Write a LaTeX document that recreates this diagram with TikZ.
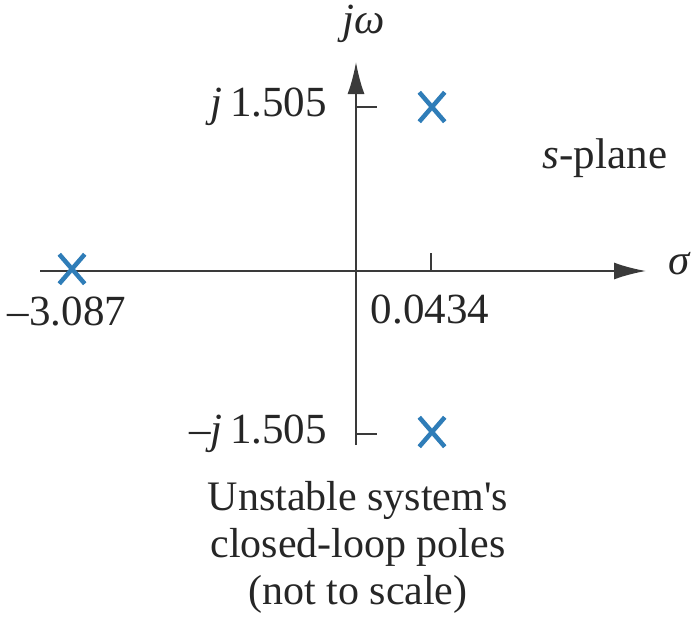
\documentclass[tikz,border=0pt]{standalone}
\usepackage{fontspec}
\setmainfont{Liberation Serif}
\usetikzlibrary{shapes.misc,arrows.meta}
\definecolor{poleblue}{HTML}{2F7DB8}
\definecolor{axisgray}{HTML}{3A3A3A}
\begin{document}
\begin{tikzpicture}[x=1pt,y=-1pt,
  axis/.style={draw=axisgray,line width=2pt},
  tickline/.style={draw=axisgray,line width=1.6pt},
  pole/.style={cross out,draw=poleblue,line width=4.5pt,minimum width=21pt,minimum height=25pt,inner sep=0pt},
  lbl/.style={font=\fontsize{43}{48}\selectfont,inner sep=0pt,text=black!85}]
\useasboundingbox (0,0) rectangle (696,626);
% axes
\coordinate (xl) at (40,271);
\coordinate (xr) at (646,271);
\coordinate (yb) at (356,445);
\coordinate (yt) at (356,62);
\draw[axis,-{Latex[length=32pt,width=17pt]}] (xl) -- (xr);
\draw[axis,-{Latex[length=32pt,width=17pt]}] (yb) -- (yt);
% ticks
\coordinate (t1a) at (356,107); \coordinate (t1b) at (377,107);
\coordinate (t2a) at (356,434); \coordinate (t2b) at (377,434);
\coordinate (t3a) at (431,271); \coordinate (t3b) at (431,253);
\draw[tickline] (t1a) -- (t1b);
\draw[tickline] (t2a) -- (t2b);
\draw[tickline] (t3a) -- (t3b);
% poles
\node[pole] (p1) at (432,107) {};
\node[pole] (p2) at (432,432) {};
\node[pole] (p3) at (72,269) {};
% labels
\node[lbl] (jw) at (364,24) {\textit{jω}};
\node[lbl] (sig) at (680,264) {\textit{σ}};
\node[lbl,anchor=east] (ju) at (327,107) {\textit{j}\,1.505};
\node[lbl,anchor=east] (jd) at (327,434) {\textendash\textit{j}\,1.505};
\node[lbl] (n1) at (67,312) {\textendash3.087};
\node[lbl] (n2) at (430,310) {0.0434};
\node[lbl] (sp) at (605,158) {\textit{s}-plane};
\node[lbl,align=center,font=\fontsize{42}{47}\selectfont] (cap) at (358,547) {Unstable system\textquotesingle s\\closed-loop poles\\(not to scale)};
\end{tikzpicture}
\end{document}
